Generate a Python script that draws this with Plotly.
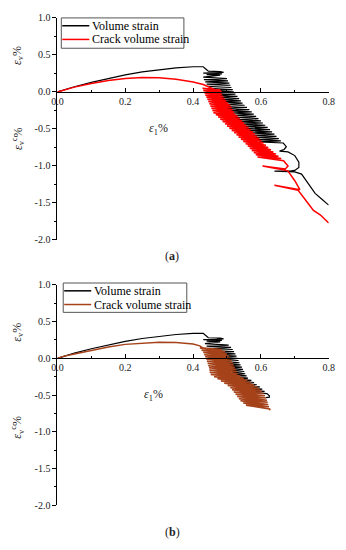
import plotly.graph_objects as go

# ---------------- data ----------------
x_ticks = [0.0, 0.2, 0.4, 0.6, 0.8]
x_tick_labels = ["0.0", "0.2", "0.4", "0.6", "0.8"]
y_ticks = [1.0, 0.5, 0.0, -0.5, -1.0, -1.5, -2.0]
y_tick_labels = ["1.0", "0.5", "0.0", "-0.5", "-1.0", "-1.5", "-2.0"]

series_names = ["Volume strain", "Crack volume strain"]
panel_labels = ["a", "b"]

# (a) Volume strain
a_vol_x = [0, 0.02, 0.05, 0.1, 0.15, 0.2, 0.25, 0.3, 0.35, 0.4, 0.43,
           0.44, 0.445, 0.48, 0.49, 0.47, 0.43, 0.475, 0.485, 0.44, 0.48, 0.43,
           0.500, 0.432, 0.503, 0.436, 0.507, 0.440, 0.510, 0.443, 0.513, 0.447, 0.517, 0.451,
           0.520, 0.458, 0.525, 0.464, 0.531, 0.470, 0.536, 0.476, 0.541, 0.482, 0.546, 0.488,
           0.552, 0.494, 0.559, 0.500, 0.566, 0.506, 0.573, 0.512, 0.579, 0.518, 0.586, 0.524,
           0.593, 0.530, 0.600, 0.536, 0.606, 0.542, 0.613, 0.548, 0.620, 0.554, 0.627, 0.560,
           0.633, 0.566, 0.640, 0.574, 0.646, 0.581, 0.653, 0.588, 0.659, 0.595, 0.666,
           0.675, 0.668, 0.655, 0.68, 0.70, 0.712, 0.712, 0.70, 0.685, 0.64, 0.66, 0.70,
           0.72, 0.74, 0.76, 0.78, 0.80]
a_vol_y = [0, 0.03, 0.07, 0.13, 0.185, 0.23, 0.27, 0.30, 0.325, 0.34, 0.34,
           0.30, 0.28, 0.275, 0.265, 0.26, 0.255, 0.25, 0.245, 0.235, 0.225, 0.20,
           0.18, 0.165, 0.15, 0.135, 0.12, 0.105, 0.09, 0.075, 0.06, 0.045, 0.03, 0.015,
           0.00, -0.015, -0.03, -0.045, -0.06, -0.075, -0.09, -0.105, -0.12, -0.135, -0.15, -0.165,
           -0.18, -0.195, -0.21, -0.225, -0.24, -0.255, -0.27, -0.285, -0.30, -0.315, -0.33, -0.345,
           -0.36, -0.375, -0.39, -0.405, -0.42, -0.435, -0.45, -0.465, -0.48, -0.495, -0.51, -0.525,
           -0.54, -0.555, -0.57, -0.585, -0.60, -0.615, -0.63, -0.645, -0.66, -0.675, -0.69,
           -0.74, -0.78, -0.80, -0.81, -0.86, -0.95, -1.02, -1.06, -1.07, -1.07, -1.07, -1.08,
           -1.11, -1.24, -1.37, -1.45, -1.53]

# (a) Crack volume strain
a_crack_x = [0, 0.02, 0.05, 0.1, 0.15, 0.2, 0.25, 0.3, 0.35, 0.4, 0.43, 0.46, 0.485,
             0.478, 0.428, 0.482, 0.430, 0.485, 0.433, 0.489, 0.436, 0.493, 0.439, 0.498, 0.442,
             0.504, 0.445, 0.510, 0.448, 0.514, 0.451, 0.517, 0.454, 0.521, 0.457, 0.525, 0.460,
             0.532, 0.467, 0.538, 0.474, 0.545, 0.480, 0.551, 0.487, 0.557, 0.494, 0.564, 0.500,
             0.570, 0.507, 0.577, 0.514, 0.583, 0.521, 0.589, 0.528, 0.596, 0.534, 0.602, 0.541,
             0.608, 0.548, 0.615, 0.555, 0.622, 0.561, 0.630, 0.567, 0.637, 0.573, 0.645, 0.579,
             0.652, 0.585, 0.660, 0.590, 0.667,
             0.68, 0.672, 0.605, 0.665, 0.68, 0.70, 0.715, 0.64, 0.71, 0.73, 0.755, 0.775, 0.80]
a_crack_y = [0, 0.03, 0.065, 0.115, 0.155, 0.18, 0.195, 0.19, 0.17, 0.135, 0.10, 0.04, -0.01,
             0.03, 0.05, 0.00, 0.02, -0.03, -0.01, -0.06, -0.04, -0.09, -0.07, -0.12, -0.10,
             -0.15, -0.13, -0.18, -0.16, -0.21, -0.19, -0.24, -0.22, -0.27, -0.25, -0.30, -0.28,
             -0.33, -0.31, -0.36, -0.34, -0.39, -0.37, -0.42, -0.40, -0.45, -0.43, -0.48, -0.46,
             -0.51, -0.49, -0.54, -0.52, -0.57, -0.55, -0.60, -0.58, -0.63, -0.61, -0.66, -0.64,
             -0.69, -0.67, -0.72, -0.70, -0.75, -0.73, -0.78, -0.76, -0.81, -0.79, -0.84, -0.82,
             -0.87, -0.85, -0.90, -0.88, -0.93,
             -1.00, -1.04, -1.00, -1.05, -1.07, -1.20, -1.32, -1.26, -1.33, -1.45, -1.60, -1.66, -1.77]

# (b) Volume strain
b_vol_x = [0, 0.02, 0.05, 0.1, 0.15, 0.2, 0.25, 0.3, 0.35, 0.4, 0.43,
           0.44, 0.445, 0.48, 0.49, 0.47, 0.43, 0.475, 0.485, 0.44, 0.48, 0.435,
           0.505, 0.440, 0.512, 0.447, 0.517, 0.453, 0.521, 0.459, 0.525, 0.466, 0.528, 0.472,
           0.531, 0.478, 0.534, 0.485, 0.537, 0.491, 0.540, 0.497, 0.544, 0.504, 0.547, 0.510,
           0.551, 0.516, 0.554, 0.523, 0.558, 0.529, 0.562, 0.535, 0.572, 0.542, 0.580, 0.548,
           0.588, 0.554, 0.597, 0.561, 0.604, 0.567, 0.611, 0.573, 0.618,
           0.625, 0.625, 0.615]
b_vol_y = [0, 0.03, 0.07, 0.13, 0.185, 0.23, 0.27, 0.30, 0.325, 0.34, 0.34,
           0.30, 0.28, 0.275, 0.265, 0.26, 0.255, 0.25, 0.245, 0.235, 0.225, 0.20,
           0.18, 0.165, 0.15, 0.135, 0.12, 0.105, 0.09, 0.075, 0.06, 0.045, 0.03, 0.015,
           0.00, -0.015, -0.03, -0.045, -0.06, -0.075, -0.09, -0.105, -0.12, -0.135, -0.15, -0.165,
           -0.18, -0.195, -0.21, -0.225, -0.24, -0.255, -0.27, -0.285, -0.30, -0.315, -0.33, -0.345,
           -0.36, -0.375, -0.39, -0.405, -0.42, -0.435, -0.45, -0.465, -0.48,
           -0.51, -0.53, -0.535]

# (b) Crack volume strain
b_crack_x = [0, 0.02, 0.05, 0.1, 0.15, 0.2, 0.25, 0.3, 0.35, 0.4, 0.42, 0.43,
             0.485, 0.420, 0.495, 0.425, 0.500, 0.430, 0.505, 0.433, 0.510, 0.436, 0.514, 0.439,
             0.517, 0.441, 0.520, 0.443, 0.523, 0.445, 0.526, 0.447, 0.529, 0.448, 0.532, 0.449,
             0.540, 0.452, 0.550, 0.462, 0.560, 0.472, 0.570, 0.482, 0.580, 0.492, 0.590, 0.502,
             0.597, 0.510, 0.603, 0.515, 0.608, 0.520, 0.612, 0.525, 0.615, 0.530, 0.618, 0.535,
             0.620, 0.540, 0.622, 0.548, 0.624, 0.556, 0.626, 0.627]
b_crack_y = [0, 0.03, 0.06, 0.11, 0.155, 0.19, 0.21, 0.22, 0.215, 0.195, 0.17, 0.14,
             0.12, 0.14, 0.09, 0.11, 0.06, 0.08, 0.03, 0.05, 0.00, 0.02, -0.03, -0.01,
             -0.06, -0.04, -0.09, -0.07, -0.12, -0.10, -0.15, -0.13, -0.18, -0.16, -0.21, -0.19,
             -0.24, -0.22, -0.27, -0.25, -0.30, -0.28, -0.33, -0.31, -0.36, -0.34, -0.39, -0.37,
             -0.42, -0.40, -0.45, -0.43, -0.48, -0.46, -0.51, -0.49, -0.54, -0.52, -0.57, -0.55,
             -0.60, -0.58, -0.63, -0.61, -0.66, -0.64, -0.69, -0.71]

# ---------------- figure ----------------
W, H = 346, 550
OFF = 8  # default page (body) margin in front of the plot div
FONT = "Liberation Serif, Times New Roman, serif"
TXT = "#222222"
COL_VOL = "black"
COL_CRACK = ["#ff0000", "#a5421a"]

def px_x(p):
    # reference window pixel -> paper fraction
    return (p - OFF) / W

def px_y(p):
    return 1 - (p - OFF) / H

x_dom = [px_x(53), px_x(334)]
top_dom = [px_y(239), px_y(12)]
bot_dom = [px_y(510), px_y(285)]

def zero_pos(dom):
    return dom[0] + (dom[1] - dom[0]) * 2.0 / 3.0

fig = go.Figure()
fig.add_trace(go.Scatter(x=a_vol_x, y=a_vol_y, mode="lines", name=series_names[0], showlegend=False,
                         line=dict(color=COL_VOL, width=1.2), xaxis="x", yaxis="y"))
fig.add_trace(go.Scatter(x=a_crack_x, y=a_crack_y, mode="lines", name=series_names[1], showlegend=False,
                         line=dict(color=COL_CRACK[0], width=1.5), xaxis="x", yaxis="y"))
fig.add_trace(go.Scatter(x=b_vol_x, y=b_vol_y, mode="lines", name=series_names[0], showlegend=False,
                         line=dict(color=COL_VOL, width=1.2), xaxis="x2", yaxis="y2"))
fig.add_trace(go.Scatter(x=b_crack_x, y=b_crack_y, mode="lines", name=series_names[1], showlegend=False,
                         line=dict(color=COL_CRACK[1], width=1.5), xaxis="x2", yaxis="y2"))

tickfont = dict(family=FONT, size=10, color=TXT)

def xaxis_def(dom_y):
    return dict(domain=x_dom, range=[0, 0.8], anchor="free", position=zero_pos(dom_y),
                showline=True, linecolor="black", linewidth=1, showgrid=False, zeroline=False,
                tickmode="array", tickvals=x_ticks, ticktext=x_tick_labels,
                ticks="inside", ticklen=4, tickcolor="black", tickfont=tickfont,
                ticklabeloverflow="allow",
                minor=dict(dtick=0.1, tick0=0, ticks="inside", ticklen=2, tickcolor="black", showgrid=False))

def yaxis_def(dom, xname):
    return dict(domain=dom, range=[-2, 1], anchor=xname, showline=True, linecolor="black",
                linewidth=1, showgrid=False, zeroline=False,
                tickmode="array", tickvals=y_ticks, ticktext=y_tick_labels,
                ticks="outside", ticklen=4, tickcolor="black", tickfont=tickfont,
                ticklabeloverflow="allow",
                minor=dict(dtick=0.25, tick0=0, ticks="outside", ticklen=2, tickcolor="black", showgrid=False))

fig.update_layout(
    width=W, height=H, margin=dict(l=0, r=0, t=0, b=0),
    paper_bgcolor="white", plot_bgcolor="white",
    xaxis=xaxis_def(top_dom), yaxis=yaxis_def(top_dom, "x"),
    xaxis2=xaxis_def(bot_dom), yaxis2=yaxis_def(bot_dom, "x2"),
    showlegend=False, hovermode=False,
)

# ---- hand-drawn legends (box, line samples, labels) ----
legend_boxes = [(57, 12, 184, 43), (59, 283, 187, 313)]
for i, (x0, y0, x1, y1) in enumerate(legend_boxes):
    fig.add_shape(type="rect", xref="paper", yref="paper",
                  x0=px_x(x0), x1=px_x(x1), y0=px_y(y1), y1=px_y(y0),
                  line=dict(color="#555555", width=1), fillcolor="rgba(0,0,0,0)")
    rows = [y0 + 8, y0 + 22]
    cols = [COL_VOL, COL_CRACK[i]]
    for r, c, name in zip(rows, cols, series_names):
        fig.add_shape(type="line", xref="paper", yref="paper",
                      x0=px_x(x0 + 1), x1=px_x(x0 + 29), y0=px_y(r), y1=px_y(r),
                      line=dict(color=c, width=1.5))
        fig.add_annotation(xref="paper", yref="paper", x=px_x(x0 + 30), y=px_y(r),
                           text=name, showarrow=False, xanchor="left", yanchor="middle",
                           font=dict(family=FONT, size=12, color="black"))

lab = dict(family=FONT, size=12, color=TXT)
ann = [
    dict(x=px_x(12), y=px_y(50), text="<i>ε</i><sub>v</sub>%", textangle=-90),
    dict(x=px_x(12), y=px_y(135), text="<i>ε</i><sub>v</sub><sup>c</sup>%", textangle=-90),
    dict(x=px_x(158), y=px_y(126), text="<i>ε</i><sub>1</sub>%", textangle=0),
    dict(x=px_x(172), y=px_y(255), text="(<b>" + panel_labels[0] + "</b>)", textangle=0),
    dict(x=px_x(12), y=px_y(333), text="<i>ε</i><sub>v</sub>%", textangle=-90),
    dict(x=px_x(12), y=px_y(430), text="<i>ε</i><sub>v</sub><sup>c</sup>%", textangle=-90),
    dict(x=px_x(153), y=px_y(397), text="<i>ε</i><sub>1</sub>%", textangle=0),
    dict(x=px_x(172), y=px_y(538), text="(<b>" + panel_labels[1] + "</b>)", textangle=0),
]
for a in ann:
    fig.add_annotation(xref="paper", yref="paper", showarrow=False, font=lab,
                       xanchor="center", yanchor="middle", **a)

fig.write_html("out.html", config={"displayModeBar": False})
